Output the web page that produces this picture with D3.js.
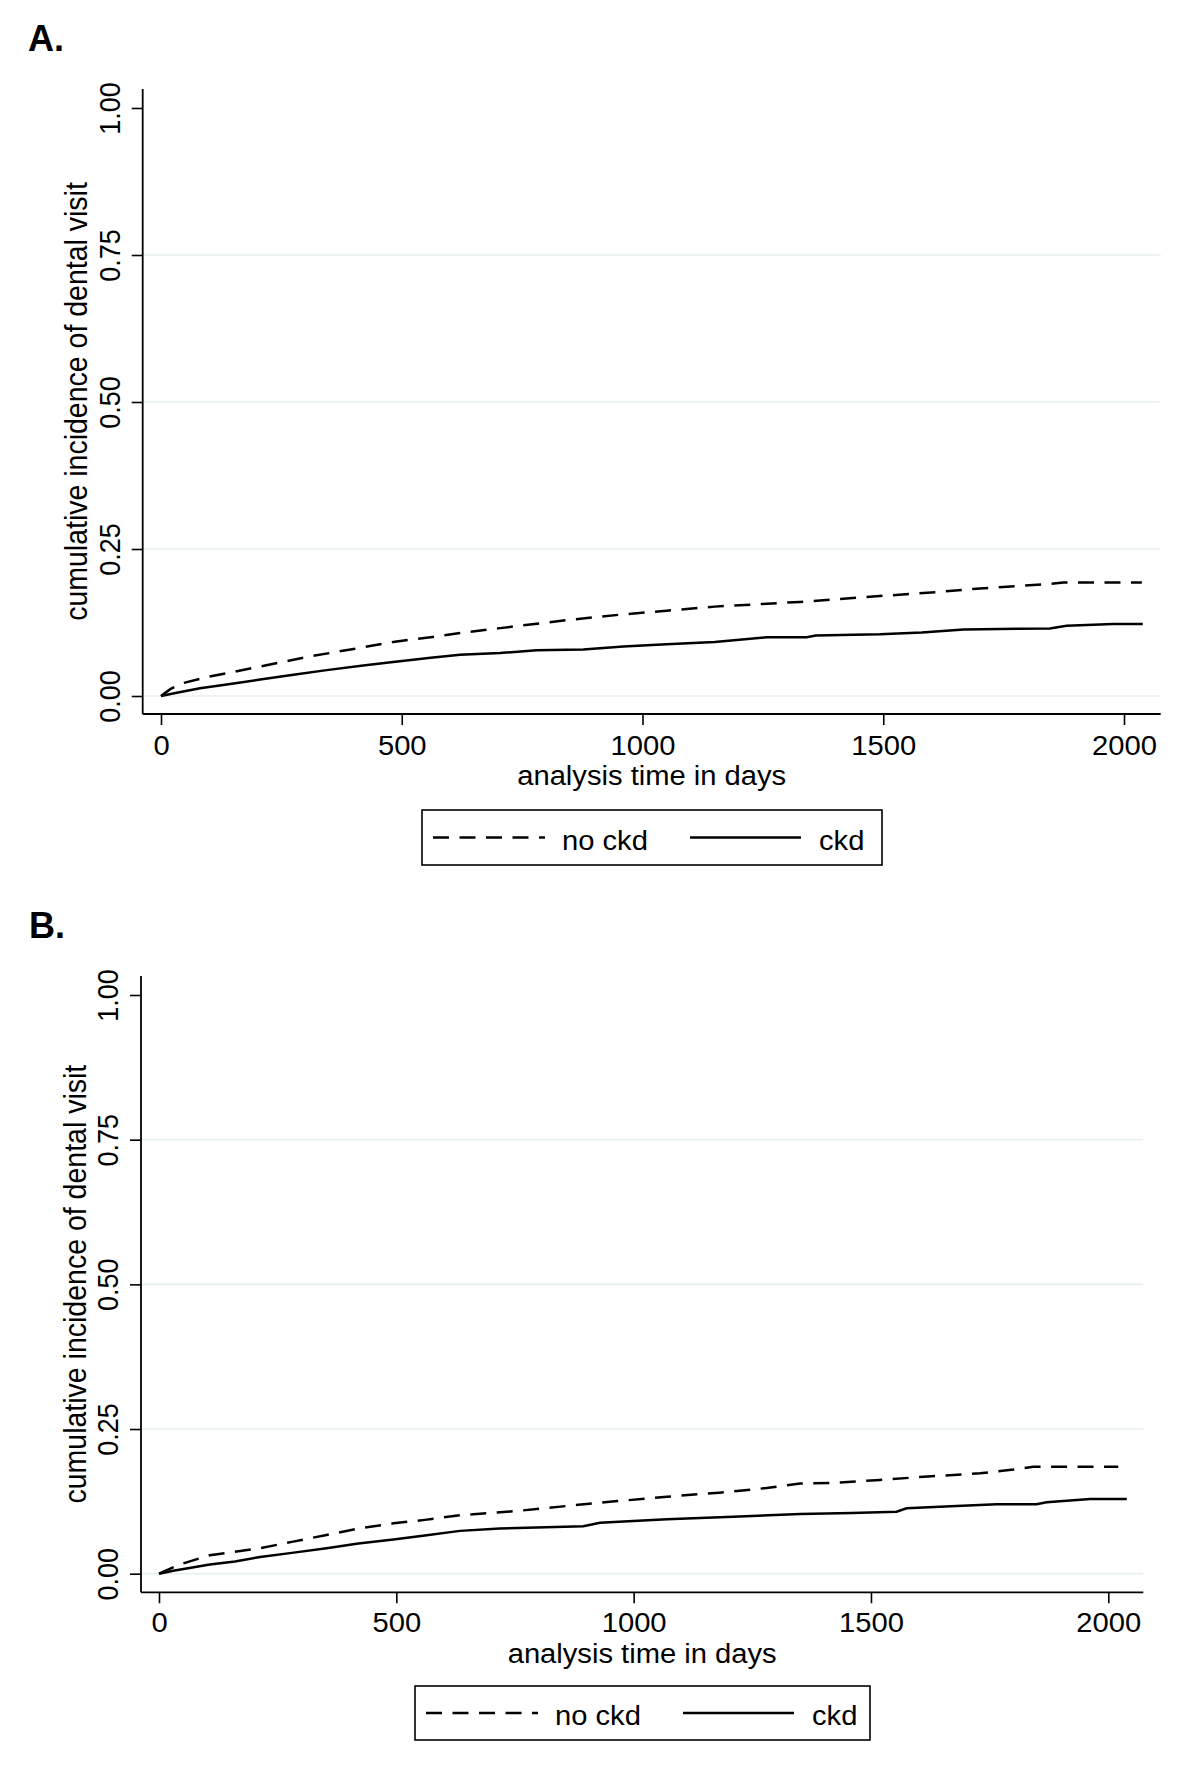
<!DOCTYPE html>
<html>
<head>
<meta charset="utf-8">
<script src="https://cdn.jsdelivr.net/npm/d3@7"></script>
<style>
  html, body { margin: 0; padding: 0; background: #fff; }
  svg { display: block; }
  text { font-family: "Liberation Sans", Arial, Helvetica, sans-serif; fill: #000; }
</style>
</head>
<body>
<svg id="chart" width="1200" height="1773"></svg>
<script>
// ---------- data ----------
const yTicks = [0, 0.25, 0.5, 0.75, 1];
const xTicks = [0, 500, 1000, 1500, 2000];
const seriesNames = ["no ckd", "ckd"];

// Panel A: days, cumulative incidence
const A_noCkdDays = [0, 20, 46, 100, 206, 300, 400, 482, 560, 621, 700, 843, 950, 1050, 1150, 1327, 1493, 1600, 1701, 1839, 1874, 2037];
const A_noCkdVals = [0, 0.012, 0.022, 0.033, 0.050, 0.066, 0.080, 0.092, 0.100, 0.107, 0.115, 0.129, 0.138, 0.145, 0.152, 0.160, 0.170, 0.176, 0.183, 0.190, 0.193, 0.193];
const A_ckdDays = [0, 30, 81, 140, 206, 275, 344, 420, 482, 560, 621, 704, 780, 877, 960, 1050, 1150, 1258, 1341, 1360, 1493, 1580, 1667, 1846, 1881, 1977, 2039];
const A_ckdVals = [0, 0.005, 0.013, 0.020, 0.028, 0.036, 0.044, 0.052, 0.058, 0.065, 0.070, 0.073, 0.078, 0.079, 0.084, 0.088, 0.092, 0.0998, 0.100, 0.103, 0.105, 0.108, 0.113, 0.115, 0.1196, 0.1224, 0.1224];

// Panel B
const B_noCkdDays = [0, 44, 107, 213, 280, 353, 420, 494, 560, 634, 750, 859, 960, 1070, 1180, 1280, 1351, 1420, 1519, 1620, 1730, 1800, 1842, 2021];
const B_noCkdVals = [0, 0.016, 0.032, 0.044, 0.055, 0.067, 0.078, 0.087, 0.093, 0.101, 0.108, 0.117, 0.125, 0.133, 0.140, 0.148, 0.156, 0.157, 0.162, 0.168, 0.1735, 0.180, 0.185, 0.185];
const B_ckdDays = [0, 30, 58, 107, 160, 213, 280, 353, 420, 494, 560, 634, 718, 894, 929, 1070, 1210, 1351, 1460, 1554, 1575, 1680, 1765, 1849, 1870, 1962, 2039];
const B_ckdVals = [0, 0.005, 0.009, 0.016, 0.021, 0.029, 0.036, 0.044, 0.052, 0.059, 0.066, 0.074, 0.078, 0.082, 0.088, 0.094, 0.0985, 0.103, 0.105, 0.107, 0.113, 0.117, 0.120, 0.120, 0.1234, 0.129, 0.129];

const yTitle = "cumulative incidence of dental visit";
const xTitle = "analysis time in days";

// ---------- drawing ----------
const svg = d3.select("#chart");
const FONT = 27;      // base font size
const SX = 1.08;      // horizontal stretch of the original raster
const DASH = "16,10.5";

function panel(cfg) {
  const g = svg.append("g");
  const x = d3.scaleLinear().domain([0, 2000]).range([cfg.x0, cfg.x2000]);
  const y = d3.scaleLinear().domain([0, 1]).range([cfg.y0, cfg.y1]);

  // panel letter
  g.append("text").attr("x", cfg.letterX).attr("y", cfg.letterY)
    .attr("font-size", 36).attr("font-weight", "bold").text(cfg.letter);

  // gridlines
  g.selectAll("line.grid").data(yTicks.filter(d => d < 1)).join("line")
    .attr("class", "grid")
    .attr("x1", cfg.left).attr("x2", cfg.right)
    .attr("y1", d => y(d)).attr("y2", d => y(d))
    .attr("stroke", "#e6eff0").attr("stroke-width", 1.6);

  // y axis
  const yAxis = d3.axisLeft(y).tickValues(yTicks).tickFormat(d3.format(".2f")).tickSize(11).tickSizeOuter(0);
  const ya = g.append("g").attr("transform", `translate(${cfg.left},0)`).call(yAxis);
  ya.select(".domain").remove();
  ya.selectAll(".tick line").attr("stroke", "#000").attr("stroke-width", 1.6);
  ya.selectAll(".tick text")
    .attr("font-size", FONT).attr("fill", "#000")
    .attr("font-family", '"Liberation Sans", Arial, sans-serif')
    .attr("text-anchor", "middle").attr("dy", null).attr("x", null).attr("y", 0)
    .attr("transform", `translate(${cfg.yLabX - cfg.left},0) scale(${SX},1) rotate(-90)`);
  g.append("line").attr("x1", cfg.left).attr("x2", cfg.left)
    .attr("y1", cfg.top).attr("y2", cfg.bottom).attr("stroke", "#000").attr("stroke-width", 1.8);

  // x axis
  const xAxis = d3.axisBottom(x).tickValues(xTicks).tickFormat(d3.format("d")).tickSize(11).tickSizeOuter(0);
  const xa = g.append("g").attr("transform", `translate(0,${cfg.bottom})`).call(xAxis);
  xa.select(".domain").remove();
  xa.selectAll(".tick line").attr("stroke", "#000").attr("stroke-width", 1.6);
  xa.selectAll(".tick text")
    .attr("font-size", FONT).attr("fill", "#000")
    .attr("font-family", '"Liberation Sans", Arial, sans-serif')
    .attr("dy", null).attr("y", 0)
    .attr("transform", `translate(0,${cfg.xLabBase - cfg.bottom}) scale(${SX},1)`);
  g.append("line").attr("x1", cfg.left).attr("x2", cfg.right)
    .attr("y1", cfg.bottom).attr("y2", cfg.bottom).attr("stroke", "#000").attr("stroke-width", 1.8);

  // titles
  g.append("text")
    .attr("transform", `translate(${(cfg.left + cfg.right) / 2},${cfg.bottom + cfg.xTitleOff}) scale(${SX},1)`)
    .attr("text-anchor", "middle").attr("font-size", FONT).text(xTitle);
  g.append("text")
    .attr("transform", `translate(${cfg.yTitleX},${(cfg.top + cfg.bottom) / 2}) scale(${SX},1) rotate(-90)`)
    .attr("text-anchor", "middle").attr("font-size", 28.5).text(yTitle);

  // curves
  const line = d3.line().x(d => x(d[0])).y(d => y(d[1])).curve(d3.curveLinear);
  const noCkd = cfg.noDays.map((d, i) => [d, cfg.noVals[i]]);
  const ckd = cfg.ckDays.map((d, i) => [d, cfg.ckVals[i]]);
  g.append("path").datum(noCkd).attr("d", line).attr("fill", "none")
    .attr("stroke", "#000").attr("stroke-width", 2.5).attr("stroke-dasharray", DASH);
  g.append("path").datum(ckd).attr("d", line).attr("fill", "none")
    .attr("stroke", "#000").attr("stroke-width", 2.5);

  // legend
  const L = cfg.legend;
  g.append("rect").attr("x", L.x).attr("y", L.y).attr("width", L.w).attr("height", L.h)
    .attr("fill", "#fff").attr("stroke", "#000").attr("stroke-width", 1.6);
  const ly = L.y + L.h / 2;
  g.append("line").attr("x1", L.x + 11).attr("x2", L.x + 123).attr("y1", ly).attr("y2", ly)
    .attr("stroke", "#000").attr("stroke-width", 2.5).attr("stroke-dasharray", DASH);
  g.append("text").attr("transform", `translate(${L.x + 140},${ly + 12}) scale(${SX},1)`)
    .attr("font-size", FONT).text(seriesNames[0]);
  g.append("line").attr("x1", L.x + 268).attr("x2", L.x + 379).attr("y1", ly).attr("y2", ly)
    .attr("stroke", "#000").attr("stroke-width", 2.5);
  g.append("text").attr("transform", `translate(${L.x + 397},${ly + 12}) scale(${SX},1)`)
    .attr("font-size", FONT).text(seriesNames[1]);
}

panel({
  letter: "A.", letterX: 28, letterY: 51,
  x0: 161, x2000: 1124, y0: 696, y1: 108,
  left: 142.7, right: 1160.7, top: 89, bottom: 714,
  yLabX: 120, yTitleX: 87, xLabBase: 755, xTitleOff: 71,
  noDays: A_noCkdDays, noVals: A_noCkdVals, ckDays: A_ckdDays, ckVals: A_ckdVals,
  legend: { x: 422, y: 810, w: 460, h: 55 }
});

panel({
  letter: "B.", letterX: 29, letterY: 938,
  x0: 159, x2000: 1108.3, y0: 1573.7, y1: 995,
  left: 141, right: 1143.3, top: 976, bottom: 1592.3,
  yLabX: 118, yTitleX: 86, xLabBase: 1631.7, xTitleOff: 71,
  noDays: B_noCkdDays, noVals: B_noCkdVals, ckDays: B_ckdDays, ckVals: B_ckdVals,
  legend: { x: 415, y: 1686, w: 455, h: 54 }
});
</script>
</body>
</html>
